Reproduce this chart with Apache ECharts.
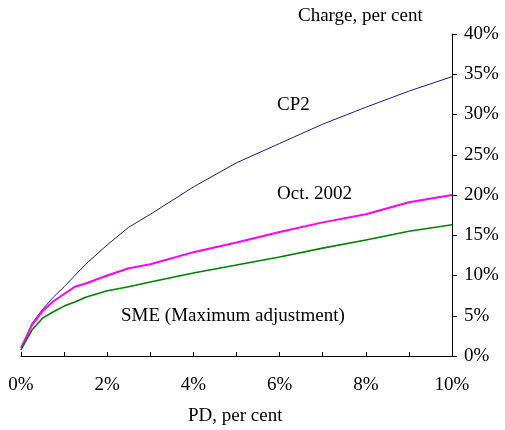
<!DOCTYPE html>
<html>
<head>
<meta charset="utf-8">
<script src="https://cdn.jsdelivr.net/npm/echarts@6/dist/echarts.min.js"></script>
<style>
  html, body { margin: 0; padding: 0; background: #fff; }
  #chart { width: 505px; height: 430px; }
</style>
</head>
<body>
<div id="chart"></div>
<script>
// PD, per cent
var pd = [0, 0.25, 0.5, 0.75, 1, 1.25, 1.5, 2, 2.5, 3, 4, 5, 6, 7, 8, 9, 10];
// charge, per cent
var cp2 = [0.8, 4.0, 5.8, 7.3, 8.6, 10.0, 11.4, 13.8, 16.0, 17.6, 21.0, 24.0, 26.4, 28.8, 30.9, 32.9, 34.7];
var oct2002 = [1.0, 3.8, 5.6, 6.8, 7.7, 8.6, 9.0, 10.0, 10.9, 11.4, 12.9, 14.1, 15.4, 16.6, 17.6, 19.1, 20.0];
var sme = [0.8, 3.2, 4.7, 5.5, 6.2, 6.7, 7.3, 8.1, 8.6, 9.2, 10.3, 11.3, 12.3, 13.4, 14.4, 15.5, 16.3];

function pairs(ys) {
  return pd.map(function (x, i) { return [x, ys[i]]; });
}

var font = 'Liberation Serif';
var fs = 19;
var myChart = echarts.init(document.getElementById('chart'));

myChart.setOption({
  animation: false,
  grid: { left: 21, right: 53, top: 34, bottom: 74 },
  xAxis: {
    type: 'value',
    min: 0,
    max: 10,
    interval: 1,
    splitLine: { show: false },
    axisLine: { lineStyle: { color: '#000', width: 1 } },
    axisTick: { inside: true, length: 4, lineStyle: { color: '#000' } },
    axisLabel: {
      margin: 20,
      color: '#000',
      fontFamily: font,
      fontSize: fs,
      formatter: function (v) { return v % 2 === 0 ? v + '%' : ''; }
    }
  },
  yAxis: {
    type: 'value',
    position: 'right',
    min: 0,
    max: 40,
    interval: 5,
    splitLine: { show: false },
    axisLine: { show: true, onZero: false, lineStyle: { color: '#000', width: 1 } },
    axisTick: { show: true, length: 5, lineStyle: { color: '#000' } },
    axisLabel: {
      margin: 12,
      color: '#000',
      fontFamily: font,
      fontSize: fs,
      formatter: '{value}%'
    }
  },
  graphic: [
    { type: 'text', left: 298, top: 7, style: { text: 'Charge, per cent', font: fs + 'px ' + font, fill: '#000' } },
    { type: 'text', left: 188, top: 407, style: { text: 'PD, per cent', font: fs + 'px ' + font, fill: '#000' } },
    { type: 'text', left: 277, top: 96, style: { text: 'CP2', font: fs + 'px ' + font, fill: '#000' } },
    { type: 'text', left: 277, top: 185, style: { text: 'Oct. 2002', font: fs + 'px ' + font, fill: '#000' } },
    { type: 'text', left: 121, top: 307, style: { text: 'SME (Maximum adjustment)', font: fs + 'px ' + font, fill: '#000' } }
  ],
  series: [{
    name: 'CP2',
    type: 'line',
    symbol: 'none',
    data: pairs(cp2),
    lineStyle: { color: '#1a1a8a', width: 1 }
  }, {
    name: 'Oct. 2002',
    type: 'line',
    symbol: 'none',
    data: pairs(oct2002),
    lineStyle: { color: '#ff00ff', width: 2 }
  }, {
    name: 'SME (Maximum adjustment)',
    type: 'line',
    symbol: 'none',
    data: pairs(sme),
    lineStyle: { color: '#008000', width: 1.6 }
  }]
});

window.addEventListener('resize', function () {
  myChart.resize();
});
</script>
</body>
</html>
